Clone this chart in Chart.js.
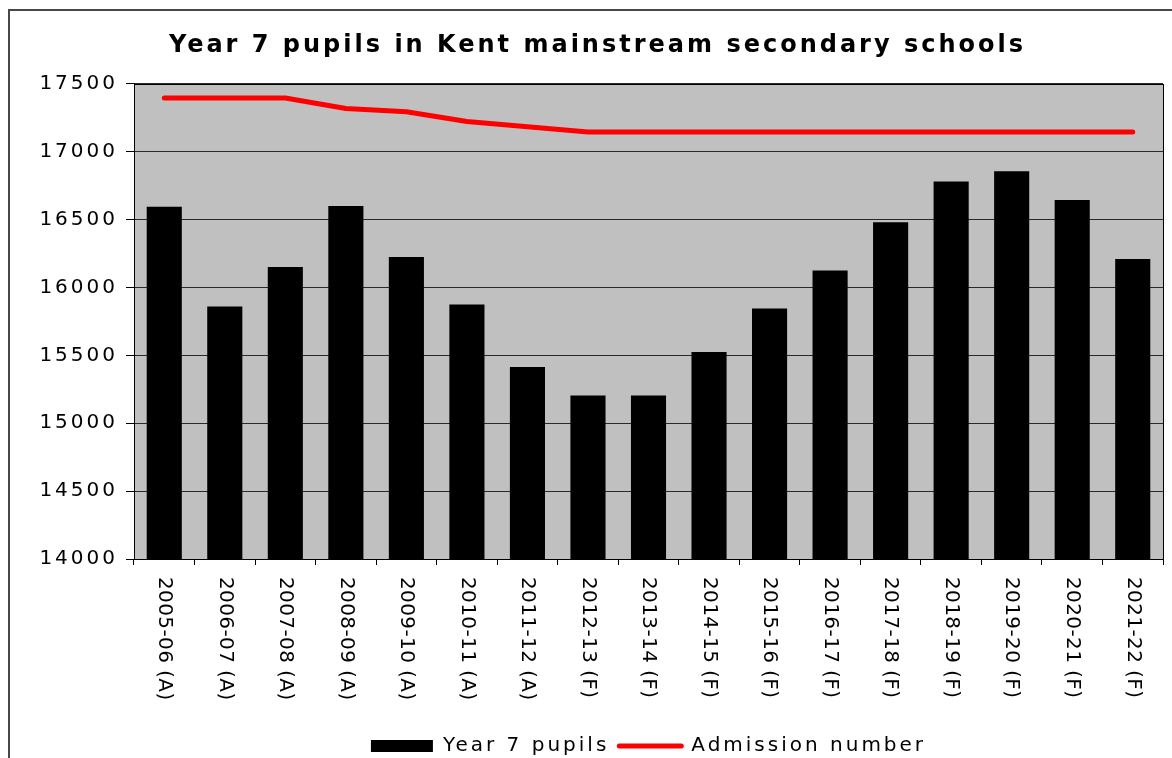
<!DOCTYPE html>
<html>
<head>
<meta charset="utf-8">
<script src="https://cdn.jsdelivr.net/npm/chart.js@4.4.1/dist/chart.umd.min.js"></script>
<style>
  html, body { margin: 0; padding: 0; background: #fff; overflow: hidden; }
  #frame { position: absolute; left: 8px; top: 9px; width: 1300px; height: 900px;
           border-left: 2px solid #484848; border-top: 2px solid #484848; }
  #wrap { position: absolute; left: 0; top: 0; width: 1172px; height: 766px; }
</style>
</head>
<body>
<div id="frame"></div>
<div id="wrap"><canvas id="chart"></canvas></div>
<script>
const years = ['2005-06 (A)', '2006-07 (A)', '2007-08 (A)', '2008-09 (A)', '2009-10 (A)', '2010-11 (A)',
    '2011-12 (A)', '2012-13 (F)', '2013-14 (F)', '2014-15 (F)', '2015-16 (F)', '2016-17 (F)',
    '2017-18 (F)', '2018-19 (F)', '2019-20 (F)', '2020-21 (F)', '2021-22 (F)'];
const pupils = [16595, 15860, 16150, 16600, 16225, 15875, 15415, 15205, 15205,
    15525, 15845, 16125, 16480, 16780, 16855, 16645, 16210];
const admission = [17395, 17395, 17395, 17318, 17294, 17223, 17184, 17145, 17145,
    17145, 17145, 17145, 17145, 17145, 17145, 17145, 17145];
const yTicks = [14000, 14500, 15000, 15500, 16000, 16500, 17000, 17500];

const font = 'DejaVu Sans';
const spacing = '3px'; // el texto del original es mas ancho

// letras espaciadas para titulo, leyenda y eje y
const wideText = {
    id: 'wideText',
    beforeLayout(chart) { chart.ctx.letterSpacing = spacing; },
    beforeDraw(chart) { chart.ctx.letterSpacing = spacing; }
};

// fondo gris del area de trazado + borde
const plotBox = {
    id: 'plotBox',
    beforeDraw(chart) {
        const a = chart.chartArea, ctx = chart.ctx;
        ctx.save();
        ctx.fillStyle = '#c0c0c0';
        ctx.fillRect(a.left, a.top, a.right - a.left, a.bottom - a.top);
        ctx.restore();
    },
    afterDraw(chart) {
        const a = chart.chartArea, ctx = chart.ctx;
        ctx.save();
        ctx.strokeStyle = '#000';
        ctx.lineWidth = 1;
        ctx.strokeRect(Math.round(a.left) + 0.5, Math.round(a.top) + 0.5,
            Math.round(a.right - a.left), Math.round(a.bottom - a.top));
        ctx.restore();
    }
};

// etiquetas del eje x giradas hacia abajo
const xLabels = {
    id: 'xLabels',
    afterDraw(chart) {
        const x = chart.scales.x, ctx = chart.ctx;
        ctx.save();
        ctx.letterSpacing = '0.4px';
        ctx.font = '20px "' + font + '"';
        ctx.fillStyle = '#000';
        ctx.textAlign = 'left';
        ctx.textBaseline = 'middle';
        years.forEach((lab, i) => {
            ctx.save();
            ctx.translate(x.getPixelForValue(i), chart.chartArea.bottom + 18);
            ctx.rotate(Math.PI / 2);
            ctx.fillText(lab, 0, 0);
            ctx.restore();
        });
        ctx.restore();
    }
};

const config = {
    type: 'bar',
    data: {
        labels: years,
        datasets: [{
            type: 'bar',
            label: 'Year 7 pupils',
            data: pupils,
            backgroundColor: '#000',
            borderWidth: 0,
            categoryPercentage: 1,
            barPercentage: 0.58,
            order: 1
        }, {
            type: 'line',
            label: 'Admission number',
            data: admission,
            borderColor: '#ff0000',
            backgroundColor: '#ff0000',
            borderWidth: 5,
            borderCapStyle: 'round',
            borderJoinStyle: 'round',
            pointRadius: 0,
            tension: 0,
            order: 0
        }]
    },
    options: {
        responsive: true,
        maintainAspectRatio: false,
        animation: false,
        layout: {
            padding: { top: 0, right: 9, bottom: 0, left: 32 }
        },
        scales: {
            x: {
                ticks: { display: false },
                grid: { drawOnChartArea: false, drawTicks: true, tickLength: 6, color: '#000' },
                border: { color: '#000' },
                afterFit(scale) { scale.height = 167; }
            },
            y: {
                min: 14000,
                max: 17500,
                afterBuildTicks(scale) { scale.ticks = yTicks.map(v => ({ value: v })); },
                ticks: {
                    color: '#000', padding: 8, font: { family: font, size: 20 },
                    callback: v => String(v)
                },
                grid: { color: '#2a2a2a', tickLength: 8, tickColor: '#000' },
                border: { color: '#000' },
                afterFit(scale) { scale.width = 102; }
            }
        },
        plugins: {
            title: {
                display: true,
                text: 'Year 7 pupils in Kent mainstream secondary schools',
                color: '#000',
                font: { family: font, size: 24, weight: 'bold' },
                padding: { top: 31, bottom: 24 }
            },
            legend: {
                position: 'bottom',
                fullSize: false,
                labels: {
                    color: '#000',
                    font: { family: font, size: 20 },
                    usePointStyle: true,
                    pointStyleWidth: 62,
                    boxHeight: 12,
                    padding: 10,
                    generateLabels: () => [
                        { text: 'Year 7 pupils', fillStyle: '#000', strokeStyle: '#000', lineWidth: 0, pointStyle: 'rect', datasetIndex: 0 },
                        { text: 'Admission number', fillStyle: '#ff0000', strokeStyle: '#ff0000', lineWidth: 5, lineCap: 'round', pointStyle: 'line', datasetIndex: 1 }
                    ]
                }
            },
            tooltip: { enabled: false }
        }
    },
    plugins: [wideText, plotBox, xLabels]
};

var chart = document.getElementById('chart');
var myChart = new Chart(chart, config);
</script>
</body>
</html>
